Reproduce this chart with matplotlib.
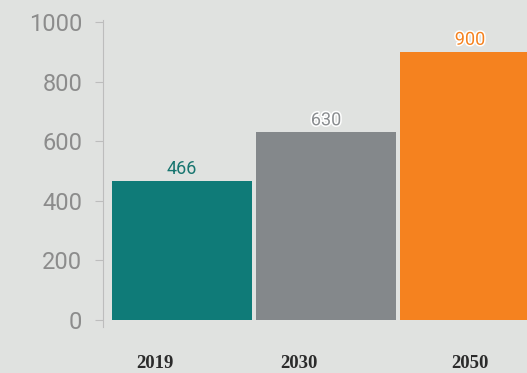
import matplotlib.pyplot as plt
import matplotlib.patheffects as pe

years = ['2019', '2030', '2050']
values = [466, 630, 900]
colors = ['#0f7b78', '#84888b', '#f5821f']
label_colors = ['#17756f', '#8a8d90', '#f5821f']
yticks = [0, 200, 400, 600, 800, 1000]

fig = plt.figure(figsize=(5.27, 3.73), dpi=100, facecolor='#e0e2e0')
ax = fig.add_axes([103/527, 46/373, 424/527, 307/373])
ax.set_facecolor('#e0e2e0')

pos = list(range(len(values)))
ax.bar(pos, values, width=0.972, color=colors, edgecolor='none')

for i, v in enumerate(values):
    t = ax.text(i, v + 10, str(v), ha='center', va='bottom', fontsize=13,
                family='Roboto', color=label_colors[i])
    if i > 0:
        t.set_path_effects([pe.withStroke(linewidth=2.2, foreground='white')])

# year labels sit a bit off the bar centres in the original
label_shift = [-0.19, -0.19, 0.0]
for i, y in enumerate(years):
    ax.text(i + label_shift[i], -0.118, y, transform=ax.get_xaxis_transform(),
            ha='center', va='center', fontsize=13.5, family='Liberation Serif',
            color='#2b2b2b', fontweight='bold')

ax.set_xlim(-0.549, 2.396)
ax.set_ylim(-23.5, 1006.7)
ax.set_yticks(yticks)
ax.set_yticklabels([str(t) for t in yticks], family='Roboto', fontsize=17,
                   color='#8c8c8c')
ax.tick_params(axis='y', length=6, color='#bdbdbd', pad=9)
ax.set_xticks([])
for s in ['top', 'right', 'bottom']:
    ax.spines[s].set_visible(False)
ax.spines['left'].set_color('#bdbdbd')

fig.savefig('out.png', dpi=100, facecolor=fig.get_facecolor())
